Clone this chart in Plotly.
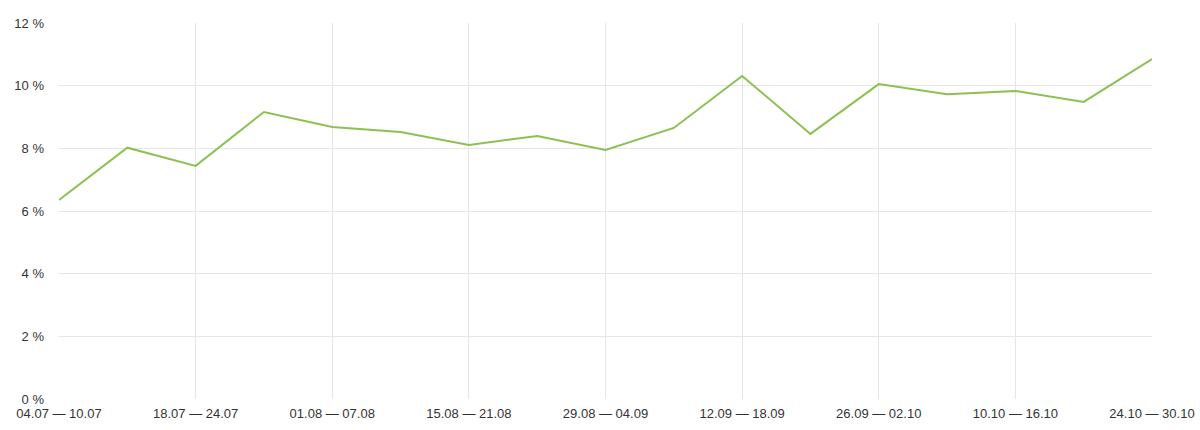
import plotly.graph_objects as go

weeks = ["04.07 — 10.07", "11.07 — 17.07", "18.07 — 24.07", "25.07 — 31.07",
         "01.08 — 07.08", "08.08 — 14.08", "15.08 — 21.08", "22.08 — 28.08",
         "29.08 — 04.09", "05.09 — 11.09", "12.09 — 18.09", "19.09 — 25.09",
         "26.09 — 02.10", "03.10 — 09.10", "10.10 — 16.10", "17.10 — 23.10",
         "24.10 — 30.10"]
values = [6.35, 8.02, 7.44, 9.16, 8.68, 8.52, 8.11, 8.39, 7.95, 8.65,
          10.31, 8.46, 10.05, 9.73, 9.83, 9.48, 10.85]
tick_weeks = weeks[::2]
y_ticks = [0, 2, 4, 6, 8, 10, 12]
y_tick_text = [f"{v} %" for v in y_ticks]

fig = go.Figure()
fig.add_trace(go.Scatter(
    x=weeks, y=values, mode="lines",
    line=dict(color="#8cc152", width=2),
    hoverinfo="x+y",
))

font = dict(family="Liberation Sans, Arial, sans-serif", size=13, color="#333333")
fig.update_layout(
    width=1200, height=430,
    margin=dict(l=59, r=48, t=23, b=31),
    paper_bgcolor="white", plot_bgcolor="white",
    showlegend=False,
    font=font,
    xaxis=dict(
        type="category", range=[0, len(weeks) - 1],
        tickmode="array", tickvals=tick_weeks, ticktext=tick_weeks,
        showgrid=True, gridcolor="#e6e6e6", gridwidth=1,
        showline=False, zeroline=False, ticks="", tickfont=font,
        ticklabelstandoff=5,
        automargin=False,
    ),
    yaxis=dict(
        range=[0, 12], tickmode="array", tickvals=y_ticks, ticktext=y_tick_text,
        showgrid=True, gridcolor="#e6e6e6", gridwidth=1,
        zeroline=False, showline=False, ticks="", tickfont=font,
        ticklabelstandoff=14,
        automargin=False,
    ),
)

fig.write_html(
    "out.html",
    config={"displayModeBar": False},
    post_script="document.body.style.margin='0';document.body.style.overflow='hidden';",
)
